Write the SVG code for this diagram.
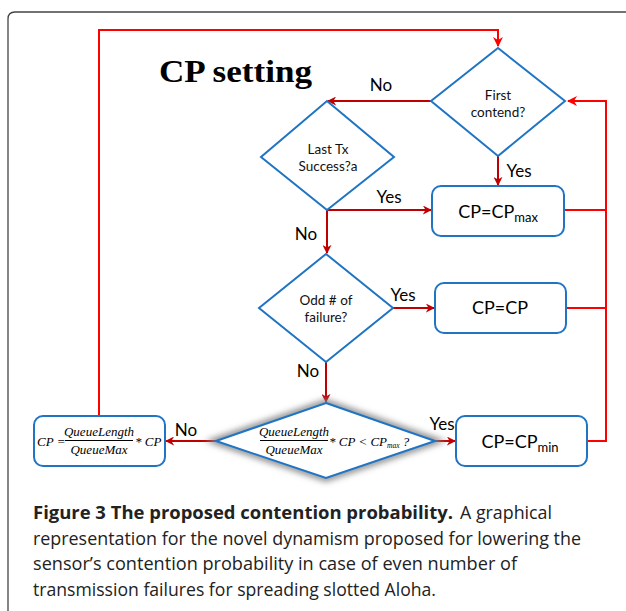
<svg xmlns="http://www.w3.org/2000/svg" width="626" height="611" viewBox="0 0 626 611">
<defs>
<style>
.dia{fill:#fff;stroke:#1f74c4;stroke-width:2}
.box{fill:#fff;stroke:#1f74c4;stroke-width:2}
.loop{fill:none;stroke:#ff0000;stroke-width:2}
.arr{fill:none;stroke:#c00000;stroke-width:2}
.lbl{font-family:Lato,"Liberation Sans",sans-serif;font-size:17px;fill:#000}
.nt{font-family:Lato,"Liberation Sans",sans-serif;font-size:13.5px;fill:#111;text-anchor:middle}
.bt{font-family:Lato,"Liberation Sans",sans-serif;font-size:18px;fill:#000;text-anchor:middle}
.m{font-family:"Liberation Serif",serif;font-style:italic;font-size:13px;fill:#000}
.cap{font-family:"Open Sans","Liberation Sans",sans-serif;font-size:18px;fill:#222}
</style>
<marker id="ar" viewBox="0 0 10 10" refX="9" refY="5" markerWidth="9" markerHeight="9" markerUnits="userSpaceOnUse" orient="auto">
<path d="M0,0 L10,5 L0,10 L3,5 z" fill="#c00000"/>
</marker>
<marker id="arb" viewBox="0 0 10 10" refX="9" refY="5" markerWidth="10" markerHeight="10" markerUnits="userSpaceOnUse" orient="auto">
<path d="M0,0 L10,5 L0,10 L3,5 z" fill="#ff0000"/>
</marker>
<filter id="glow" x="-20%" y="-30%" width="140%" height="160%">
<feGaussianBlur stdDeviation="3"/>
</filter>
</defs>
<rect width="626" height="611" fill="#fff"/>
<path d="M8,611 V19 Q8,12 15,12 H626" fill="none" stroke="#444" stroke-width="1.3"/>
<text x="159" y="82" font-family="'Liberation Serif',serif" font-weight="bold" font-size="32" textLength="153" lengthAdjust="spacingAndGlyphs">CP setting</text>

<g id="connectors">
<polyline class="loop" points="99,416 99,30 498,30 498,46" marker-end="url(#arb)"/>
<polyline class="loop" points="587,441 606,441 606,101 568,101" marker-end="url(#arb)"/>
<line class="loop" x1="564" y1="210" x2="606" y2="210"/>
<line class="loop" x1="566" y1="308" x2="606" y2="308"/>
<line class="arr" x1="432" y1="101" x2="328" y2="101" marker-end="url(#ar)"/>
<line class="arr" x1="498" y1="156" x2="498" y2="185" marker-end="url(#ar)"/>
<line class="arr" x1="327" y1="210" x2="431" y2="210" marker-end="url(#ar)"/>
<line class="arr" x1="327" y1="210" x2="327" y2="253" marker-end="url(#ar)"/>
<line class="arr" x1="393" y1="308" x2="434" y2="308" marker-end="url(#ar)"/>
<line class="arr" x1="326" y1="362" x2="326" y2="402" marker-end="url(#ar)"/>
<line class="arr" x1="216" y1="441" x2="166" y2="441" marker-end="url(#ar)"/>
<line class="arr" x1="435" y1="441" x2="455" y2="441" marker-end="url(#ar)"/>
<text class="lbl" x="381" y="91" text-anchor="middle">No</text>
<text class="lbl" x="519" y="177" text-anchor="middle">Yes</text>
<text class="lbl" x="389" y="203" text-anchor="middle">Yes</text>
<text class="lbl" x="306" y="240" text-anchor="middle">No</text>
<text class="lbl" x="403" y="301" text-anchor="middle">Yes</text>
<text class="lbl" x="308" y="377" text-anchor="middle">No</text>
<text class="lbl" x="186" y="436" text-anchor="middle">No</text>
<text class="lbl" x="442" y="430" text-anchor="middle">Yes</text>
</g>

<g id="first">
<polygon class="dia" points="498,48 565,101 498,156 431,101"/>
<text class="nt" x="498" y="100">First</text>
<text class="nt" x="498" y="117">contend?</text>
</g>
<g id="lasttx">
<polygon class="dia" points="327,101 394,157 327,210 261,157"/>
<text class="nt" x="328" y="154">Last Tx</text>
<text class="nt" x="328" y="171">Success?a</text>
</g>
<g id="cpmax">
<rect class="box" x="432" y="186" width="132" height="50" rx="9"/>
<text class="bt" x="498" y="218">CP=CP<tspan font-size="13" dy="4">max</tspan></text>
</g>
<g id="odd">
<polygon class="dia" points="326,254 393,308 326,362 259,308"/>
<text class="nt" x="326" y="305">Odd # of</text>
<text class="nt" x="326" y="322">failure?</text>
</g>
<g id="cpcp">
<rect class="box" x="435" y="283" width="131" height="50" rx="9"/>
<text class="bt" x="500" y="314">CP=CP</text>
</g>
<g id="queue">
<polygon points="326,403 435,441 326,478 216,441" fill="none" stroke="#888" stroke-width="7" filter="url(#glow)"/>
<polygon class="dia" points="326,403 435,441 326,478 216,441"/>
<text class="m" x="294" y="436" text-anchor="middle">QueueLength</text>
<line x1="260" y1="440.5" x2="328" y2="440.5" stroke="#000" stroke-width="1"/>
<text class="m" x="294" y="454" text-anchor="middle">QueueMax</text>
<text class="m" x="329" y="446">* CP &lt; CP<tspan font-size="7.5" dy="2">max</tspan><tspan dy="-2"> ?</tspan></text>
</g>
<g id="cpmin">
<rect class="box" x="456" y="416" width="131" height="50" rx="9"/>
<text class="bt" x="520" y="448">CP=CP<tspan font-size="13" dy="4">min</tspan></text>
</g>
<g id="cpq">
<rect class="box" x="34" y="416" width="131" height="50" rx="9"/>
<text class="m" x="37" y="446">CP =</text>
<text class="m" x="99" y="436" text-anchor="middle">QueueLength</text>
<line x1="65" y1="440.5" x2="133" y2="440.5" stroke="#000" stroke-width="1"/>
<text class="m" x="99" y="454" text-anchor="middle">QueueMax</text>
<text class="m" x="135" y="446">* CP</text>
</g>

<g id="caption">
<text class="cap" x="33" y="519" font-weight="bold" textLength="420" lengthAdjust="spacingAndGlyphs">Figure 3 The proposed contention probability.</text>
<text class="cap" x="460" y="519" textLength="92" lengthAdjust="spacingAndGlyphs">A graphical</text>
<text class="cap" x="33" y="545" textLength="548" lengthAdjust="spacingAndGlyphs">representation for the novel dynamism proposed for lowering the</text>
<text class="cap" x="33" y="570" textLength="484" lengthAdjust="spacingAndGlyphs">sensor’s contention probability in case of even number of</text>
<text class="cap" x="33" y="596" textLength="403" lengthAdjust="spacingAndGlyphs">transmission failures for spreading slotted Aloha.</text>
</g>
</svg>
